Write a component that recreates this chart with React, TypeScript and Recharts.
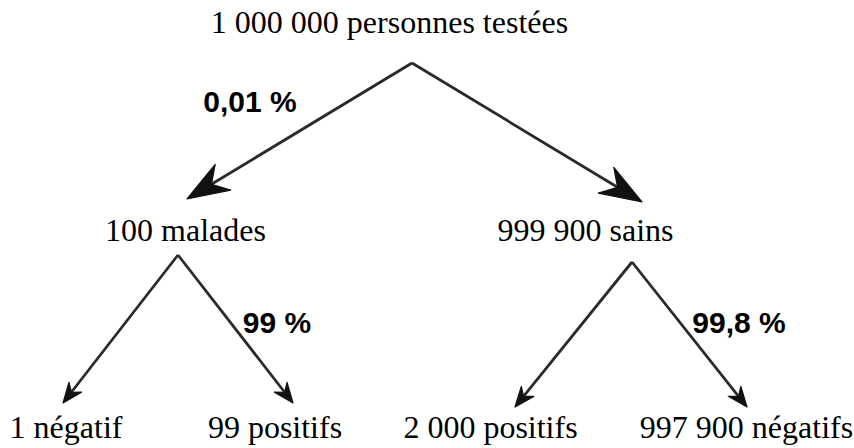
import React from "react";
import { ScatterChart, Scatter, XAxis, YAxis, ReferenceLine } from "recharts";

// Tree content
const nodeLabels = [
  "1 000 000 personnes testées",
  "100 malades",
  "999 900 sains",
  "1 négatif",
  "99 positifs",
  "2 000 positifs",
  "997 900 négatifs",
];
const rateLabels = ["0,01 %", "99 %", "99,8 %"];

// Layout (diagram coordinates, in the chart's x/y domain)
const nodeX = [389.5, 185.5, 585.5, 66, 275, 490.5, 746.5];
const nodeY = [33, 241, 241, 438, 438, 438, 438];
const rateX = [250, 277, 739];
const rateY = [112, 333, 333];
// edges: start (apex) and end (arrow tip), head size
const edgeX1 = [412, 412, 178, 178, 632, 632];
const edgeY1 = [63, 63, 255, 255, 262, 262];
const edgeX2 = [187, 642, 63, 293, 515, 747];
const edgeY2 = [199, 202, 403, 403, 407, 407];
const edgeBig = [true, true, false, false, false, false];

const W = 854;
const H = 448;

const nodeData = nodeLabels.map((label, i) => ({ x: nodeX[i], y: nodeY[i], label }));
const rateData = rateLabels.map((label, i) => ({ x: rateX[i], y: rateY[i], label }));

const arrowShape = (big: boolean) => (props: any) => {
  const { x1, y1, x2, y2 } = props;
  const dx = x2 - x1;
  const dy = y2 - y1;
  const len = Math.sqrt(dx * dx + dy * dy) || 1;
  const ux = dx / len;
  const uy = dy / len;
  const nx = -uy;
  const ny = ux;
  const L = big ? 42 : 20;
  const Wd = big ? 15 : 8;
  const bx = x2 - ux * L;
  const by = y2 - uy * L;
  const kx = x2 - ux * L * 0.68;
  const ky = y2 - uy * L * 0.68;
  const pts = [
    [x2, y2],
    [bx + nx * Wd, by + ny * Wd],
    [kx, ky],
    [bx - nx * Wd, by - ny * Wd],
  ]
    .map((p) => p.join(","))
    .join(" ");
  return (
    <g>
      <line x1={x1} y1={y1} x2={kx} y2={ky} stroke="#2a2a2a" strokeWidth={2.8} />
      <polygon points={pts} fill="#111" stroke="#111" strokeWidth={1.2} strokeLinejoin="round" />
    </g>
  );
};

const serif = "\"Liberation Serif\", \"Times New Roman\", Times, serif";
const sans = "\"Liberation Sans\", Arial, Helvetica, sans-serif";

const NodeText = (props: any) => {
  const { cx, cy, payload } = props;
  return (
    <text
      x={cx}
      y={cy}
      textAnchor="middle"
      style={{ fontFamily: serif, fontSize: 32, fill: "#000" }}
    >
      {payload.label}
    </text>
  );
};

const RateText = (props: any) => {
  const { cx, cy, payload } = props;
  return (
    <text
      x={cx}
      y={cy}
      textAnchor="middle"
      style={{ fontFamily: sans, fontWeight: 700, fontSize: 30, fill: "#000" }}
    >
      {payload.label}
    </text>
  );
};

export default function App() {
  return (
    <div style={{ position: "fixed", left: 0, top: 0, width: W, height: H, background: "#fff" }}>
      <ScatterChart width={W} height={H} margin={{ top: 0, right: 0, bottom: 0, left: 0 }}>
        <XAxis type="number" dataKey="x" domain={[0, W]} allowDataOverflow hide />
        <YAxis type="number" dataKey="y" domain={[0, H]} allowDataOverflow reversed hide />
        {edgeX1.map((_, i) => (
          <ReferenceLine
            key={i}
            segment={[
              { x: edgeX1[i], y: edgeY1[i] },
              { x: edgeX2[i], y: edgeY2[i] },
            ]}
            ifOverflow="visible"
            shape={arrowShape(edgeBig[i])}
          />
        ))}
        <Scatter data={nodeData} shape={NodeText} isAnimationActive={false} />
        <Scatter data={rateData} shape={RateText} isAnimationActive={false} />
      </ScatterChart>
    </div>
  );
}
